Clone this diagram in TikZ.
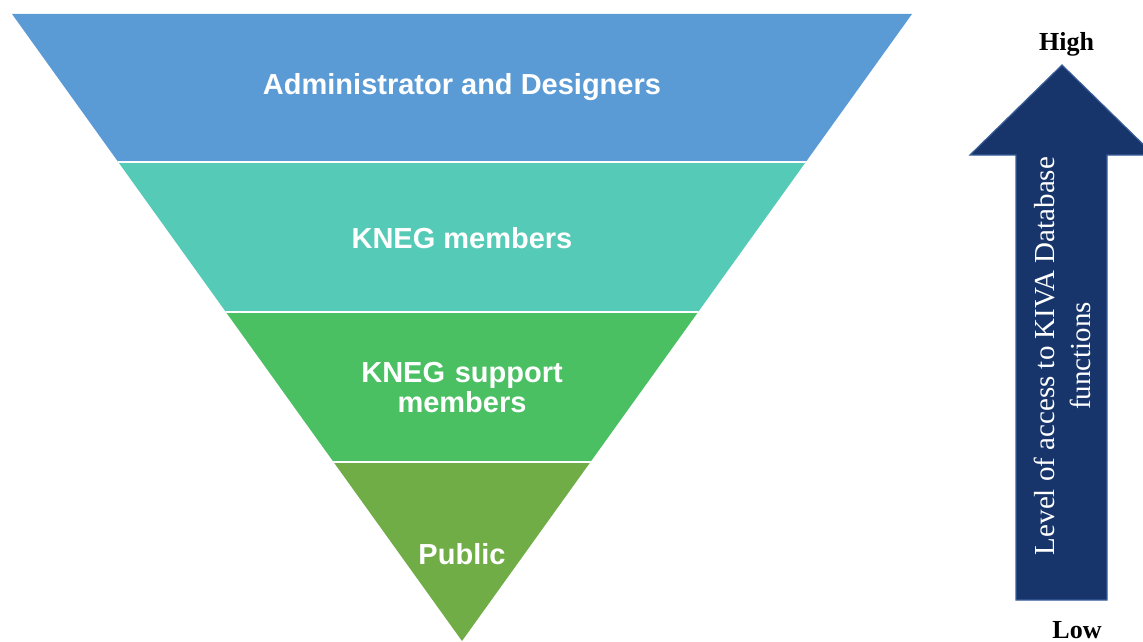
\documentclass[tikz,border=0pt]{standalone}
\usepackage{fontspec}
\setmainfont{Liberation Serif}
\newfontfamily\bandfont{Liberation Sans}
\usepackage{xcolor}
\definecolor{admincol}{HTML}{5B9BD5}
\definecolor{membcol}{HTML}{55CAB6}
\definecolor{suppcol}{HTML}{4AC063}
\definecolor{pubcol}{HTML}{70AD47}
\definecolor{arrcol}{HTML}{17356A}
\definecolor{arredge}{HTML}{3A5E9A}
\tikzstyle{bandtext}=[text=white,align=center,font=\bandfont\bfseries\fontsize{29}{31}\selectfont]
\tikzstyle{sep}=[white,line width=2.5pt]
\tikzstyle{levtext}=[font=\bfseries\fontsize{26}{28}\selectfont,anchor=base,inner sep=0pt]

\begin{document}
\begin{tikzpicture}[x=1pt,y=-1pt]
  \useasboundingbox (0,0) rectangle (1143,642);
  \def\yA{162}
  \def\yB{312}
  \def\yC{462}
  \coordinate (TL) at (12,14);
  \coordinate (TR) at (912,14);
  \coordinate (A) at (462,641);

  % funnel
  \begin{scope}
    \clip (TL) -- (TR) -- (A) -- cycle;
    \fill[admincol] (0,0) rectangle (1143,\yA);
    \fill[membcol] (0,\yA) rectangle (1143,\yB);
    \fill[suppcol] (0,\yB) rectangle (1143,\yC);
    \fill[pubcol] (0,\yC) rectangle (1143,642);
    \draw[sep] (0,\yA) -- (1143,\yA);
    \draw[sep] (0,\yB) -- (1143,\yB);
    \draw[sep] (0,\yC) -- (1143,\yC);
  \end{scope}
  \node[bandtext] (admin) at (462,87) {Administrator and Designers};
  \node[bandtext] (memb) at (462,238) {KNEG members};
  \node[bandtext,text width=300pt] (supp) at (462,388) {KNEG support\\[-1pt]members};
  \node[bandtext] (pub) at (462,554) {Public};

  % access arrow
  \draw[fill=arrcol,draw=arredge,line width=1.2pt,line join=miter]
    (1016,600) -- (1016,155) -- (970,155) -- (1062,65) -- (1154,155)
    -- (1107,155) -- (1107,600) -- cycle;
  \node[text=white,rotate=90,align=center,font=\fontsize{29}{36}\selectfont]
    (lev) at (1062,356) {Level of access to KIVA Database\\functions};
  \node[levtext] (high) at (1066.5,51) {High};
  \node[levtext] (low) at (1077,638) {Low};
\end{tikzpicture}
\end{document}
